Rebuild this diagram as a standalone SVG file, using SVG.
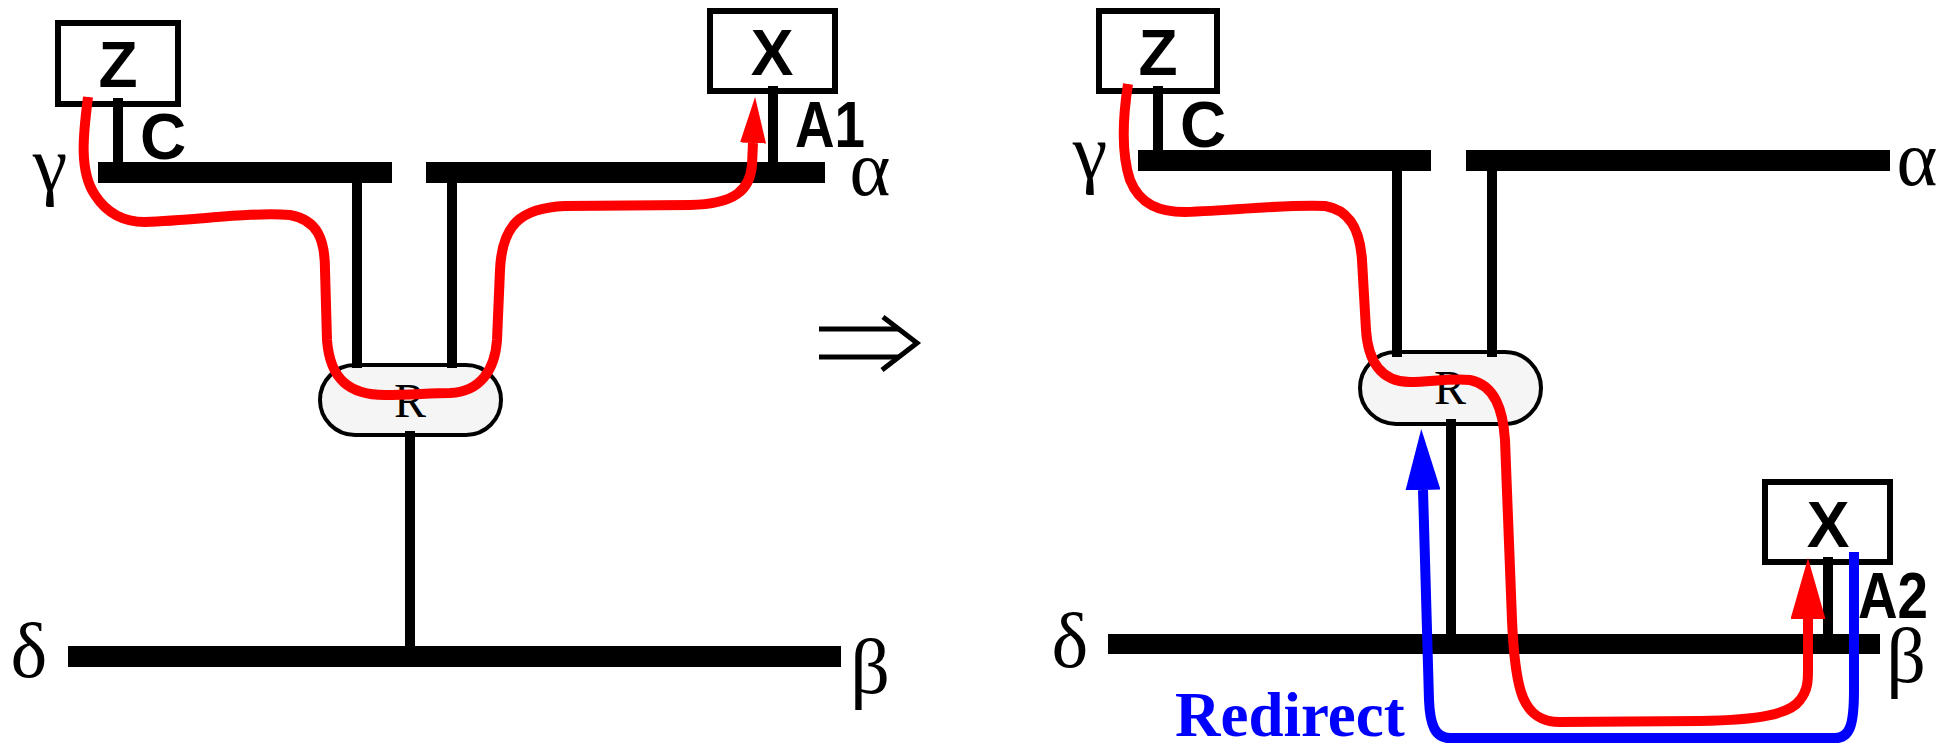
<svg xmlns="http://www.w3.org/2000/svg" width="1939" height="744" viewBox="0 0 1939 744">
<style>
.box{fill:#fff;stroke:#000;stroke-width:6}
.bus{fill:#000}
.stub{stroke:#000;stroke-width:10;fill:none}
.oval{fill:#f5f5f5;stroke:#000;stroke-width:4}
.lbl{font-family:"Liberation Sans",Arial,sans-serif;font-weight:bold;font-size:64px;fill:#000}
.greek{font-family:"Liberation Serif","Times New Roman",serif;font-size:78px;fill:#000}
.rl{font-family:"Liberation Serif","Times New Roman",serif;font-size:48px;fill:#000;text-anchor:middle}
.red{fill:none;stroke:#f00;stroke-width:10}
.blue{fill:none;stroke:#00f;stroke-width:10}
</style>
<defs>
<marker id="ahRedS" markerUnits="userSpaceOnUse" markerWidth="46" markerHeight="26" refX="0" refY="13" orient="auto"><path d="M0,0 L46,13 L0,26 z" fill="#f00"/></marker>
<marker id="ahRedL" markerUnits="userSpaceOnUse" markerWidth="61" markerHeight="35" refX="0" refY="17.5" orient="auto"><path d="M0,0 L61,17.5 L0,35 z" fill="#f00"/></marker>
<marker id="ahBlue" markerUnits="userSpaceOnUse" markerWidth="61" markerHeight="35" refX="0" refY="17.5" orient="auto"><path d="M0,0 L61,17.5 L0,35 z" fill="#00f"/></marker>
</defs>
<rect width="1939" height="744" fill="#fff"/>

<!-- LEFT PANEL -->
<g id="left-bus-top">
<rect class="bus" x="98" y="162" width="294" height="21"/>
<rect class="bus" x="426" y="162" width="399" height="21"/>
<text class="greek" x="50" y="190" text-anchor="middle">γ</text>
<text class="greek" x="870" y="195" text-anchor="middle">α</text>
</g>
<g id="left-bus-bottom">
<rect class="bus" x="68" y="646" width="773" height="21"/>
<text class="greek" x="29" y="677" text-anchor="middle">δ</text>
<text class="greek" x="870" y="693" text-anchor="middle">β</text>
</g>
<g id="left-Z">
<rect class="box" x="58" y="23" width="120" height="81"/>
<text class="lbl" x="118" y="87" text-anchor="middle">Z</text>
</g>
<g id="left-X">
<rect class="box" x="710" y="11" width="125" height="80"/>
<text class="lbl" x="772" y="75" text-anchor="middle">X</text>
</g>
<g id="left-R">
<rect class="oval" x="320" y="365" width="181" height="70" rx="35"/>
<text class="rl" x="410" y="417">R</text>
</g>

<!-- RIGHT PANEL -->
<g id="right-bus-top">
<rect class="bus" x="1138" y="150" width="293" height="21"/>
<rect class="bus" x="1466" y="150" width="424" height="21"/>
<text class="greek" x="1917" y="185" text-anchor="middle">α</text>
<text class="greek" x="1090" y="178" text-anchor="middle">γ</text>
</g>
<g id="right-bus-bottom">
<rect class="bus" x="1108" y="634" width="772" height="20"/>
<text class="greek" x="1070" y="667" text-anchor="middle">δ</text>
<text class="greek" x="1906" y="682" text-anchor="middle">β</text>
</g>
<g id="right-Z">
<rect class="box" x="1099" y="11" width="118" height="80"/>
<text class="lbl" x="1158" y="75" text-anchor="middle">Z</text>
</g>
<g id="right-X">
<rect class="box" x="1765" y="482" width="125" height="80"/>
<text class="lbl" x="1828" y="547" text-anchor="middle">X</text>
</g>
<g id="right-R">
<rect class="oval" x="1360" y="352" width="181" height="72" rx="36"/>
<text class="rl" x="1450" y="404">R</text>
</g>

<g id="transition-arrow" stroke="#000" stroke-width="5" fill="none">
<line x1="819" y1="329" x2="899" y2="329"/>
<line x1="819" y1="357" x2="899" y2="357"/>
<path d="M883,317 L917,343 L882,370"/>
</g>

<g id="connectors">
<!-- stubs left -->
<line class="stub" x1="118" y1="98" x2="118" y2="163"/>
<text class="lbl" x="140" y="159">C</text>
<line class="stub" x1="773" y1="86" x2="773" y2="163"/>
<text class="lbl" x="795" y="147" textLength="70" lengthAdjust="spacingAndGlyphs">A1</text>
<line class="stub" x1="357" y1="182" x2="357" y2="368"/>
<line class="stub" x1="452" y1="182" x2="452" y2="368"/>
<line class="stub" x1="410" y1="431" x2="410" y2="647"/>
<!-- stubs right -->
<line class="stub" x1="1158" y1="86" x2="1158" y2="151"/>
<text class="lbl" x="1180" y="147">C</text>
<line class="stub" x1="1828" y1="557" x2="1828" y2="635"/>
<text class="lbl" x="1858" y="618" textLength="70" lengthAdjust="spacingAndGlyphs">A2</text>
<line class="stub" x1="1397" y1="170" x2="1397" y2="357"/>
<line class="stub" x1="1492" y1="170" x2="1492" y2="357"/>
<line class="stub" x1="1451" y1="419" x2="1451" y2="635"/>

<!-- left route -->
<path class="red" marker-end="url(#ahRedS)" d="M88,97 C84,130 78,170 95,195 C108,215 125,222 145,222 C200,220 250,212 290,215 C318,220 325,240 325,270 L327,340 C330,380 350,395 385,395 C410,395 430,393 450,393 C480,392 495,370 497,340 L500,270 C502,225 520,208 565,206 L690,205 C735,204 750,190 752,165 L753,143"/>
<!-- right route -->
<path class="red" marker-end="url(#ahRedL)" d="M1128,84 C1124,110 1120,150 1130,180 C1140,205 1160,212 1185,212 C1240,210 1290,204 1325,206 C1350,210 1360,230 1362,260 L1366,330 C1368,360 1380,382 1410,382 C1430,382 1450,378 1470,380 C1495,385 1503,410 1505,440 L1512,620 C1515,690 1522,722 1560,722 L1700,721 C1760,720 1790,714 1800,700 C1808,690 1808,680 1808,670 L1808,619"/>
<!-- redirect -->
<path class="blue" marker-end="url(#ahBlue)" d="M1854,552 L1854,690 C1854,725 1850,738 1835,738 L1450,738 C1435,738 1430,725 1429,700 L1423,490"/>
<text x="1175" y="736" font-family="'Liberation Serif','Times New Roman',serif" font-weight="bold" font-size="63" fill="#00f">Redirect</text>
</g>
</svg>
